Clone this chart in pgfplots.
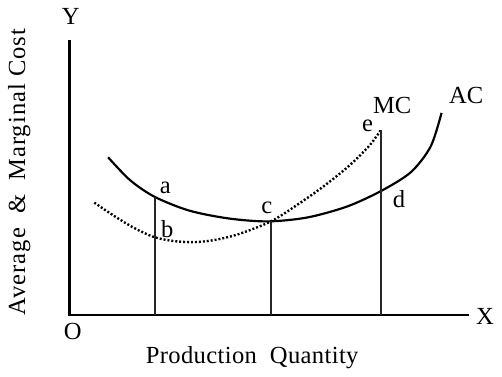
\documentclass[border=0pt]{standalone}
\usepackage{pgfplots}
\pgfplotsset{compat=1.18}
\usepackage{fontspec}
\setmainfont{Liberation Serif}

\begin{document}
\fontsize{25}{29}\selectfont
\begin{tikzpicture}
\begin{axis}[
  scale only axis,
  width=502bp, height=382bp,
  xmin=0, xmax=502, ymin=0, ymax=382,
  hide axis,
  clip=false,
]
% axes
\addplot[black, line width=2.4bp, line join=miter] coordinates {(69,336) (69,57) (474,57)};
% AC curve
\addplot[black, line width=2.2bp, smooth] coordinates {
  (108,217) (130,194) (155,177) (190,163) (230,155) (270,152) (310,156)
  (350,167) (385,183) (415,202) (435,228) (446,262)};
% MC curve
\addplot[black, line width=2.4bp, smooth, line cap=butt, dash pattern=on 2bp off 2bp] coordinates {
  (94,171) (115,157) (135,145) (155,136) (175,132) (195,131) (215,133)
  (240,139) (273,152) (300,169) (327,188) (353,209) (373,229) (384,244)};
% verticals
\addplot[black!85, line width=1.9bp] coordinates {(155.5,57) (155.5,177)};
\addplot[black!85, line width=1.9bp] coordinates {(273.5,57) (273.5,152)};
\addplot[black!85, line width=1.9bp] coordinates {(384.5,57) (384.5,245)};
% labels
\node at (axis cs:70,360) {Y};
\node at (axis cs:490,56) {X};
\node at (axis cs:72,40) {O};
\node at (axis cs:166,186) {a};
\node at (axis cs:168,144) {b};
\node at (axis cs:269,166) {c};
\node at (axis cs:403,175) {d};
\node at (axis cs:371,249) {e};
\node at (axis cs:396,270) {MC};
\node at (axis cs:471,280) {AC};
\node at (axis cs:254,14) {\addfontfeature{LetterSpace=1.5}Production\ \ Quantity};
\node[rotate=90] at (axis cs:18,202) {\addfontfeature{LetterSpace=4}Average\ \ \&\ \ Marginal\ Cost};
\end{axis}
\end{tikzpicture}
\end{document}
